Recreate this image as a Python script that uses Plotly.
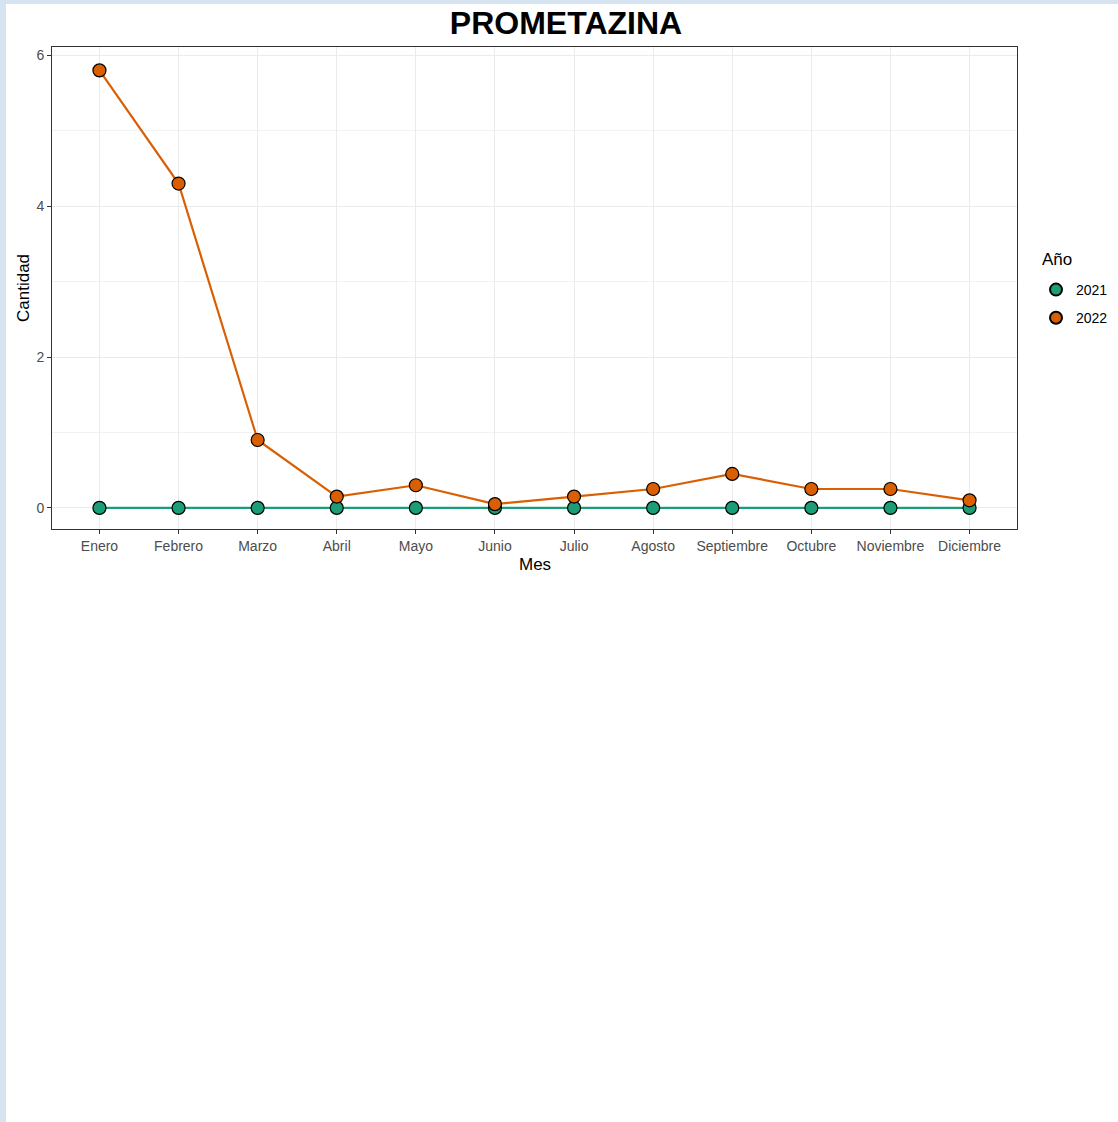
import plotly.graph_objects as go

meses = ["Enero", "Febrero", "Marzo", "Abril", "Mayo", "Junio", "Julio",
         "Agosto", "Septiembre", "Octubre", "Noviembre", "Diciembre"]
valores_2021 = [0, 0, 0, 0, 0, 0, 0, 0, 0, 0, 0, 0]
valores_2022 = [5.8, 4.3, 0.9, 0.15, 0.3, 0.05, 0.15, 0.25, 0.45, 0.25, 0.25, 0.1]
anios = ["2021", "2022"]
colores = ["#1B9E77", "#D95F02"]

W, H = 1118, 1122
L, R, T, B = 52, 1017, 47, 529

fig = go.Figure()
for anio, vals, col in zip(anios, [valores_2021, valores_2022], colores):
    fig.add_trace(go.Scatter(
        x=list(range(len(meses))), y=vals, name=anio, mode="lines+markers",
        line=dict(color=col, width=2.2), showlegend=False, legendgroup=anio,
        marker=dict(size=13, color=col, line=dict(color="black", width=1.2)),
    ))
for anio, col in zip(anios, colores):
    fig.add_trace(go.Scatter(
        x=[None], y=[None], name=anio, mode="markers", legendgroup=anio,
        marker=dict(size=13, color=col, line=dict(color="black", width=1.2)),
    ))

font = "Liberation Sans, Arial, sans-serif"
fig.update_layout(
    width=W, height=H,
    margin=dict(l=L, r=W - R, t=T, b=H - B, pad=0, autoexpand=False),
    paper_bgcolor="#d6e4f2", plot_bgcolor="white",
    font=dict(family=font, color="#4D4D4D", size=14),
    showlegend=True,
    title=dict(text="<b>PROMETAZINA</b>", x=566 / W, xanchor="center",
               y=1 - 23 / H, yanchor="middle",
               font=dict(size=32, color="black", family=font)),
    legend=dict(x=(1036 - L) / (R - L), xanchor="left",
                y=(B - 274) / (B - T), yanchor="top",
                font=dict(size=14, color="black"), traceorder="grouped",
                bgcolor="rgba(0,0,0,0)", tracegroupgap=7, itemsizing="constant"),
    shapes=[dict(type="rect", xref="paper", yref="paper", layer="below",
                 x0=(6 - L) / (R - L), x1=(W - L) / (R - L) + 0.01,
                 y0=(B - H) / (B - T) - 0.01, y1=(B - 4) / (B - T),
                 fillcolor="white", line=dict(width=0))],
    annotations=[
        dict(text="Mes", xref="paper", yref="paper", x=0.5,
             y=-(564 - B) / (B - T), xanchor="center", yanchor="middle",
             showarrow=False, font=dict(size=17, color="black")),
        dict(text="Cantidad", xref="paper", yref="paper", x=-(L - 23) / (R - L),
             y=0.5, xanchor="center", yanchor="middle", textangle=-90,
             showarrow=False, font=dict(size=17, color="black")),
        dict(text="Año", xref="paper", yref="paper", x=(1040 - L) / (R - L),
             y=(B - 259) / (B - T), xanchor="left", yanchor="middle",
             showarrow=False, font=dict(size=17, color="black")),
    ],
)
fig.update_xaxes(
    range=[-0.6, 11.6], tickmode="array", tickvals=list(range(len(meses))),
    ticktext=meses, showgrid=True, gridcolor="#EBEBEB", gridwidth=1,
    zeroline=False, showline=True, mirror=True, linecolor="#333333", linewidth=1,
    ticks="outside", ticklen=4, tickcolor="#333333",
    tickfont=dict(size=14, color="#4D4D4D"),
)
fig.update_yaxes(
    range=[-0.28, 6.11], tickvals=[0, 2, 4, 6],
    showgrid=True, gridcolor="#EBEBEB", gridwidth=1,
    minor=dict(tickvals=[1, 3, 5], showgrid=True, gridcolor="#F2F2F2", gridwidth=0.6, ticks=""),
    zeroline=False, showline=True, mirror=True, linecolor="#333333", linewidth=1,
    ticks="outside", ticklen=4, tickcolor="#333333",
    tickfont=dict(size=14, color="#4D4D4D"),
)

fig.write_html("out.html", config={"displayModeBar": False},
               post_script="document.body.style.margin='0';document.body.style.background='#d6e4f2';")
